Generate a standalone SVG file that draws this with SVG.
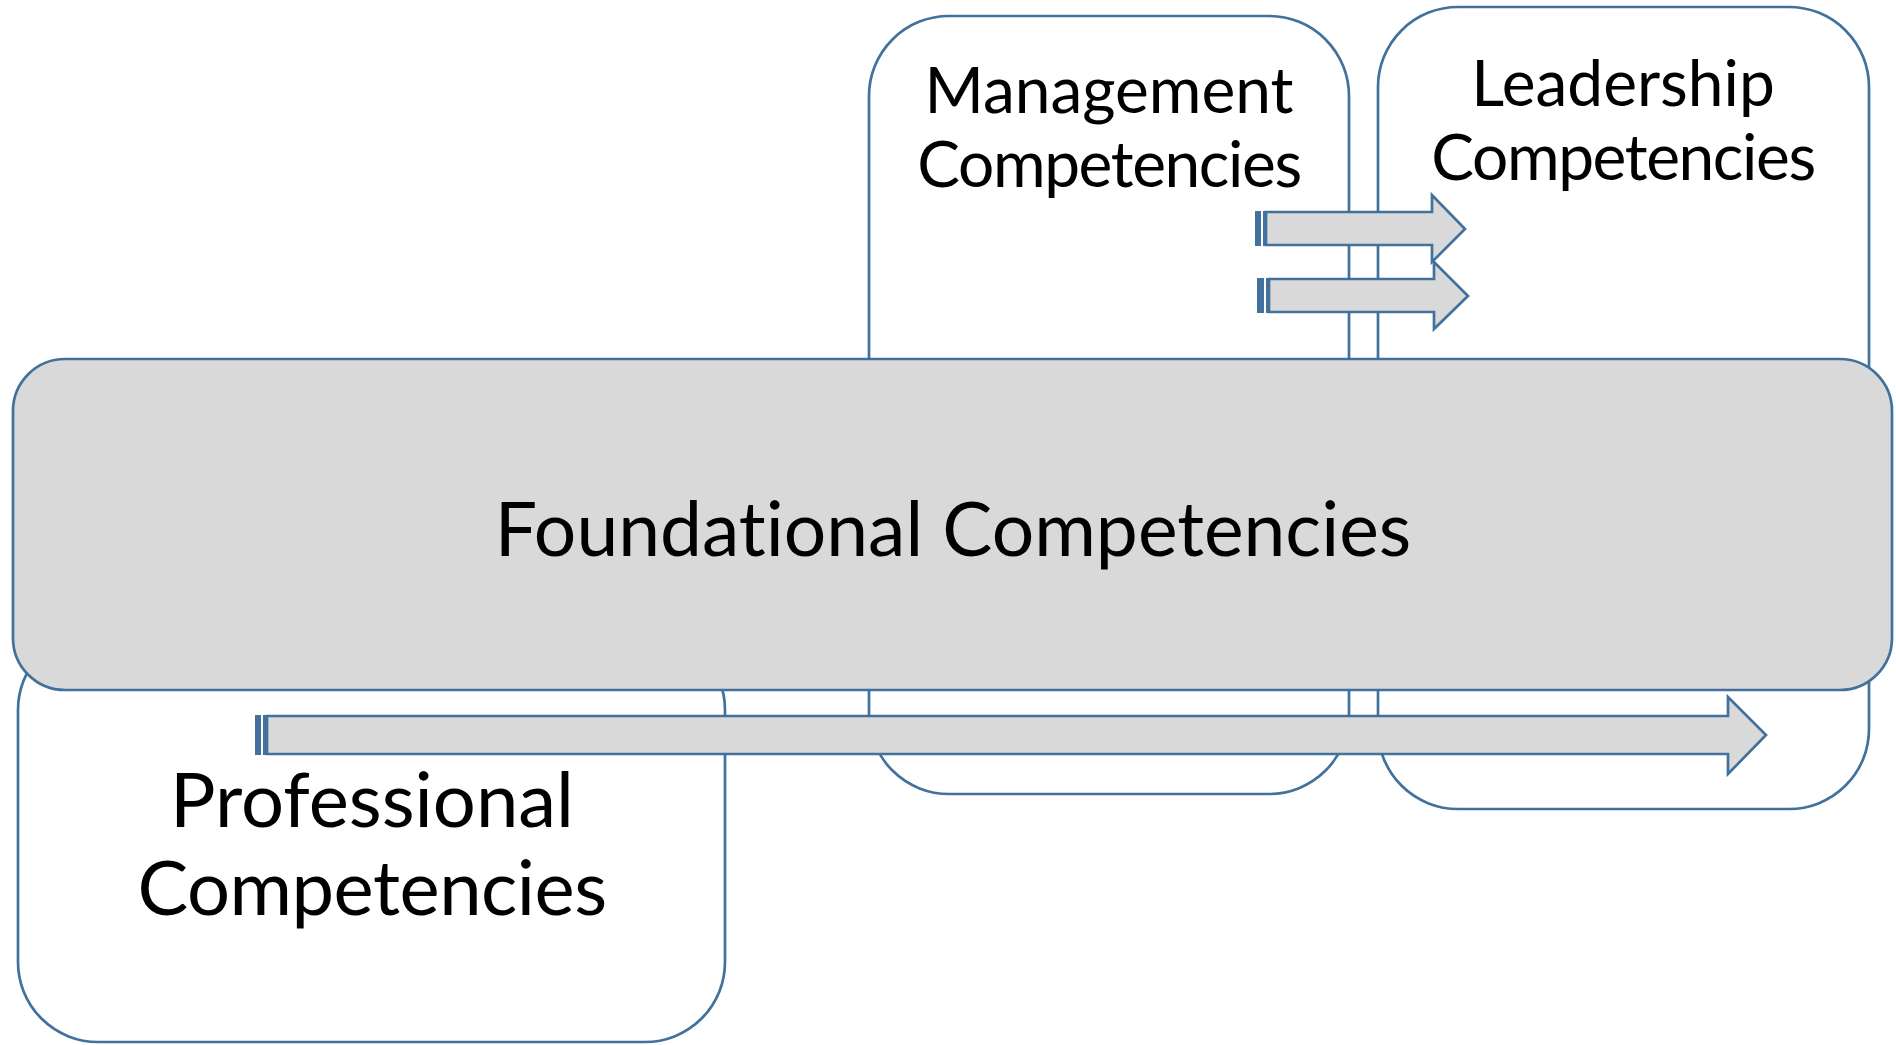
<svg xmlns="http://www.w3.org/2000/svg" width="1896" height="1045" viewBox="0 0 1896 1045">
  <style>
    .box { fill: #FFFFFF; stroke: #41719C; stroke-width: 2.7; }
    .band { fill: #D9D9D9; stroke: #41719C; stroke-width: 2.7; }
    .arrow { fill: #D9D9D9; stroke: #41719C; stroke-width: 2.7; stroke-linejoin: miter; }
    .stripe { fill: #41719C; }
    .label { font-family: Lato, "Liberation Sans", sans-serif; fill: #000000; text-anchor: middle; font-variant-ligatures: none; }
    .tight { letter-spacing: -1.4px; }
  </style>
  <rect width="1896" height="1045" fill="#FFFFFF"/>

  <g id="management">
    <rect class="box" x="869" y="16" width="480" height="778" rx="80" ry="80"/>
    <text class="label" font-size="64" x="1109" y="113">Management</text>
    <text class="label tight" font-size="64" x="1109" y="187">Competencies</text>
  </g>

  <g id="leadership">
    <rect class="box" x="1378" y="7" width="491" height="802" rx="80" ry="80"/>
    <text class="label" font-size="64" x="1623" y="106">Leadership</text>
    <text class="label tight" font-size="64" x="1623" y="180">Competencies</text>
  </g>

  <g id="professional">
    <rect class="box" x="18" y="630" width="707" height="412" rx="80" ry="80"/>
    <text class="label" font-size="76" x="372" y="827">Professional</text>
    <text class="label" font-size="76" letter-spacing="-0.5" x="372" y="915">Competencies</text>
  </g>

  <g id="foundational">
    <rect class="band" x="13" y="359" width="1879" height="331" rx="52" ry="52"/>
    <text class="label" font-size="75" x="953" y="556">Foundational Competencies</text>
  </g>

  <g id="connectors">
    <!-- management to leadership, upper -->
    <g>
      <rect class="stripe" x="1255" y="211" width="6" height="35"/>
      <rect class="stripe" x="1263" y="211" width="3" height="35"/>
      <path class="arrow" d="M1266,212 H1432 V195 L1465,229 L1432,262 V245 H1266 Z"/>
    </g>
    <!-- management to leadership, lower -->
    <g>
      <rect class="stripe" x="1257" y="278" width="7" height="35"/>
      <rect class="stripe" x="1266" y="278" width="3" height="35"/>
      <path class="arrow" d="M1269,279 H1434 V262 L1468,296 L1434,329 V312 H1269 Z"/>
    </g>
    <!-- professional through to leadership -->
    <g>
      <rect class="stripe" x="255" y="715" width="6" height="40"/>
      <rect class="stripe" x="263" y="715" width="3" height="40"/>
      <path class="arrow" d="M267,716 H1728 V697 L1766,735 L1728,774 V754 H267 Z"/>
    </g>
  </g>
</svg>
